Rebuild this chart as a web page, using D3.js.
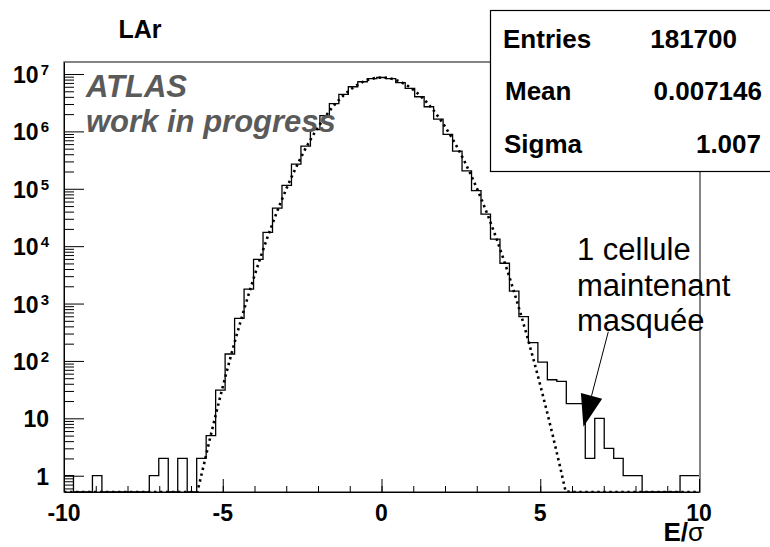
<!DOCTYPE html>
<html>
<head>
<meta charset="utf-8">
<script src="https://cdn.jsdelivr.net/npm/d3@7"></script>
<style>
  body { margin: 0; background: #fff; }
  svg { display: block; }
  text { font-family: "Liberation Sans", Arial, Helvetica, sans-serif; }
</style>
</head>
<body>
<svg id="chart" width="770" height="547"></svg>
<script>
// ---- data ----
const plotTitle = "LAr";
const histLow = -10;
const histHigh = 10;
// counts per bin (67 equal bins between histLow and histHigh)
const binCounts = [
  1, 0, 0, 1, 0, 0, 0, 0, 0, 1,
  2, 0, 2, 0, 2, 5, 31, 132, 553, 1790,
  5900, 17400, 46200, 115000, 270000, 556000, 1070000, 1880000, 3050000, 4420000,
  6000000, 7330000, 8300000, 8700000, 8300000, 7100000, 5630000, 4020000, 2690000, 1640000,
  890000, 455000, 206000, 93000, 36300, 13300, 5040, 1650, 590, 208,
  95, 47, 44, 18, 18, 2, 10, 3, 2, 1,
  1, 0, 0, 0, 0, 1, 1
];
// gaussian fit parameters: constant, mean, sigma
const fitConstant = 8.7e6;
const fitMean = 0.007;
const fitSigma = 1.005;
const fitPoints = 100;

const xMajorTicks = [-10, -5, 0, 5, 10];
const yDecades = [0, 1, 2, 3, 4, 5, 6, 7];
const yMin = 0.52, yMax = 1.62e7;

const statsLabels = ["Entries", "Mean", "Sigma"];
const statsValues = ["181700", "0.007146", "1.007"];

const noteLines = ["1 cellule", "maintenant", "masquée"];
const noteTarget = [6.36, 7.1];   // where the arrow points (E/sigma, entries)

// ---- layout ----
const svg = d3.select("#chart");
const frame = { left: 64, right: 699, top: 62, bottom: 492 };

const x = d3.scaleLinear().domain([histLow, histHigh]).range([frame.left, frame.right]);
const y = d3.scaleLog().domain([yMin, yMax]).range([frame.bottom, frame.top]);
const yc = v => y(Math.min(Math.max(v, yMin), yMax));

svg.append("clipPath").attr("id", "frameClip")
  .append("rect")
  .attr("x", frame.left).attr("y", frame.top - 1)
  .attr("width", frame.right - frame.left + 1).attr("height", frame.bottom - frame.top + 1);

// frame box
svg.append("rect")
  .attr("x", frame.left).attr("y", frame.top)
  .attr("width", frame.right + 1 - frame.left).attr("height", frame.bottom - frame.top)
  .attr("fill", "none").attr("stroke", "#333").attr("stroke-width", 1.2);

const plot = svg.append("g").attr("clip-path", "url(#frameClip)");

// histogram as a step line
const nBins = binCounts.length;
const binWidth = (histHigh - histLow) / nBins;
const stepPts = binCounts.map((c, i) => [histLow + i * binWidth, c]);
stepPts.push([histHigh, binCounts[nBins - 1]]);
plot.append("path")
  .datum(stepPts)
  .attr("fill", "none")
  .attr("stroke", "#000")
  .attr("stroke-width", 1.3)
  .attr("d", d3.line().x(d => x(d[0])).y(d => yc(d[1])).curve(d3.curveStepAfter));

// gaussian fit, dotted
const fitX = d3.range(fitPoints + 1).map(i => histLow + i * (histHigh - histLow) / fitPoints);
const gaus = v => fitConstant * Math.exp(-0.5 * Math.pow((v - fitMean) / fitSigma, 2));
plot.append("path")
  .datum(fitX)
  .attr("fill", "none")
  .attr("stroke", "#000")
  .attr("stroke-width", 2.6)
  .attr("stroke-dasharray", "2.4,3.6")
  .attr("d", d3.line().x(d => x(d)).y(d => yc(gaus(d))));

// x axis: major and minor ticks pointing inwards
const xAxisG = svg.append("g").attr("transform", `translate(0,${frame.bottom})`);
xAxisG.append("g")
  .call(d3.axisBottom(x).tickValues(d3.range(histLow, histHigh + 1, 1)).tickSizeInner(-6).tickSizeOuter(0).tickFormat(""))
  .call(g => g.select(".domain").attr("stroke", "#000"));
xAxisG.append("g")
  .call(d3.axisBottom(x).tickValues(xMajorTicks).tickSizeInner(-13).tickSizeOuter(0).tickFormat(""))
  .call(g => g.select(".domain").remove());
xAxisG.selectAll(".tick line").attr("stroke", "#000");

svg.append("g").selectAll("text")
  .data(xMajorTicks)
  .join("text")
  .attr("x", d => x(d))
  .attr("y", 521)
  .attr("text-anchor", "middle")
  .attr("font-size", 23)
  .attr("font-weight", "bold")
  .text(d => d);

// x axis title
const xTitle = svg.append("text")
  .attr("x", 704).attr("y", 541)
  .attr("text-anchor", "end")
  .attr("font-size", 26);
xTitle.append("tspan").attr("font-weight", "bold").text("E/");
xTitle.append("tspan").text("σ");

// y axis: log ticks pointing inwards
const yMinor = [];
for (let e = -1; e <= 7; e++) {
  for (let m = 2; m <= 9; m++) {
    const v = m * Math.pow(10, e);
    if (v >= yMin && v <= yMax) yMinor.push(v);
  }
}
const yMajorVals = yDecades.map(e => Math.pow(10, e));
const yAxisG = svg.append("g").attr("transform", `translate(${frame.left},0)`);
yAxisG.append("g")
  .call(d3.axisLeft(y).tickValues(yMinor).tickSizeInner(-10).tickSizeOuter(0).tickFormat(""))
  .call(g => g.select(".domain").attr("stroke", "#000"));
yAxisG.append("g")
  .call(d3.axisLeft(y).tickValues(yMajorVals).tickSizeInner(-20).tickSizeOuter(0).tickFormat(""))
  .call(g => g.select(".domain").remove());
yAxisG.selectAll(".tick line").attr("stroke", "#000");

const yLab = svg.append("g").selectAll("text")
  .data(yDecades)
  .join("text")
  .attr("x", 49)
  .attr("y", d => y(Math.pow(10, d)) + 9)
  .attr("text-anchor", "end")
  .attr("font-size", 23)
  .attr("font-weight", "bold");
yLab.each(function (d) {
  const t = d3.select(this);
  if (d === 0) { t.text("1"); return; }
  if (d === 1) { t.text("10"); return; }
  t.append("tspan").text("10");
  t.append("tspan").attr("font-size", 15).attr("dx", 2).attr("dy", -8).text(d);
});

// title
svg.append("text")
  .attr("x", 140).attr("y", 38)
  .attr("text-anchor", "middle")
  .attr("font-size", 25)
  .attr("font-weight", "bold")
  .text(plotTitle);

// experiment label
svg.append("text")
  .attr("x", 86).attr("y", 97)
  .attr("font-size", 31).attr("font-weight", "bold").attr("font-style", "italic")
  .attr("fill", "#5a5a5a")
  .text("ATLAS");
svg.append("text")
  .attr("x", 86).attr("y", 132)
  .attr("font-size", 31).attr("font-weight", "bold").attr("font-style", "italic")
  .attr("fill", "#5a5a5a")
  .text("work in progress");

// statistics box
svg.append("rect")
  .attr("x", 490.5).attr("y", 10.5)
  .attr("width", 300).attr("height", 161)
  .attr("fill", "#fff").attr("stroke", "#000").attr("stroke-width", 1.2);
const statsRowY = [48, 100, 153];
const statsLabelX = [503, 505, 504];
const statsValueX = [737, 762, 761];
svg.append("g").selectAll("text")
  .data(statsLabels)
  .join("text")
  .attr("x", (d, i) => statsLabelX[i])
  .attr("y", (d, i) => statsRowY[i])
  .attr("font-size", 26).attr("font-weight", "bold")
  .text(d => d);
svg.append("g").selectAll("text")
  .data(statsValues)
  .join("text")
  .attr("x", (d, i) => statsValueX[i])
  .attr("y", (d, i) => statsRowY[i])
  .attr("text-anchor", "end")
  .attr("font-size", 26).attr("font-weight", "bold")
  .text(d => d);

// annotation text
svg.append("g").selectAll("text")
  .data(noteLines)
  .join("text")
  .attr("x", 577)
  .attr("y", (d, i) => 260 + i * 35.5)
  .attr("font-size", 31)
  .text(d => d);

// annotation arrow
const start = [608.3, 331.7];
const tip = [x(noteTarget[0]), y(noteTarget[1])];
const dx = tip[0] - start[0], dy = tip[1] - start[1];
const len = Math.hypot(dx, dy);
const ux = dx / len, uy = dy / len;
const headLen = 32, headHalf = 11;
const base = [tip[0] - ux * headLen, tip[1] - uy * headLen];
svg.append("line")
  .attr("x1", start[0]).attr("y1", start[1])
  .attr("x2", base[0]).attr("y2", base[1])
  .attr("stroke", "#000").attr("stroke-width", 1);
svg.append("polygon")
  .attr("points", [
    tip,
    [base[0] - uy * headHalf, base[1] + ux * headHalf],
    [base[0] + uy * headHalf, base[1] - ux * headHalf]
  ].map(p => p.join(",")).join(" "))
  .attr("fill", "#000");
</script>
</body>
</html>
